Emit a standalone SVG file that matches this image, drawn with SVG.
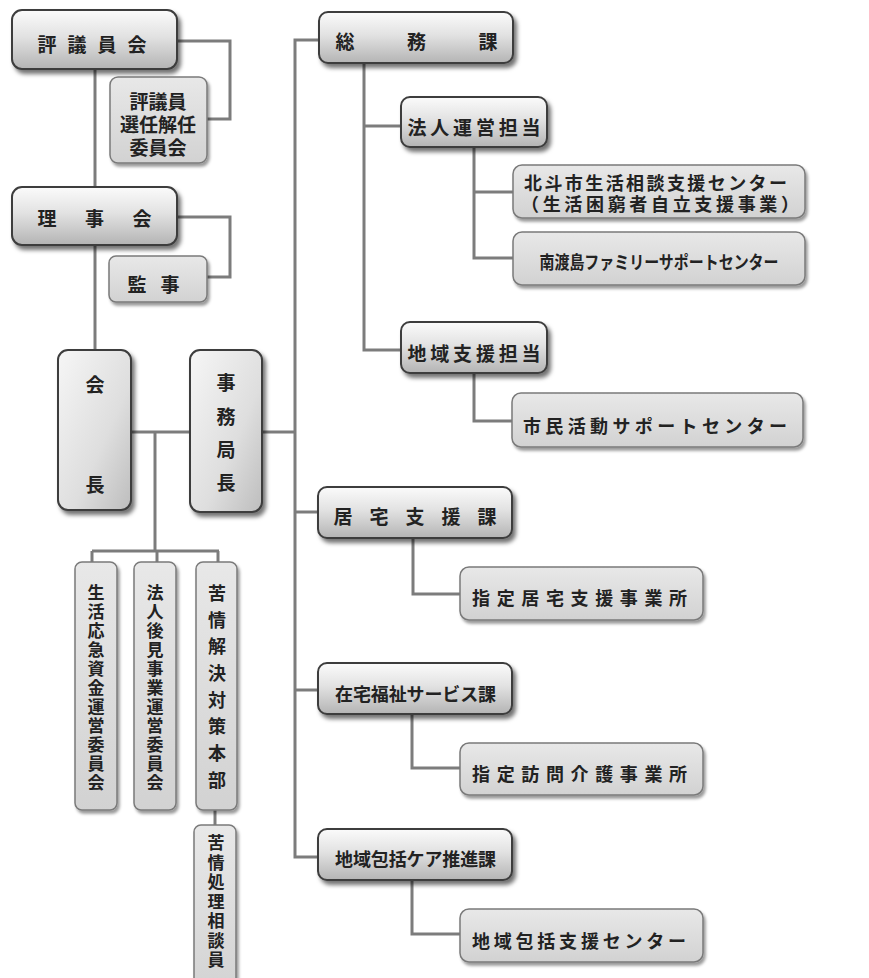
<svg xmlns="http://www.w3.org/2000/svg" width="869" height="978" viewBox="0 0 869 978">
<defs>
<linearGradient id="gMain" x1="0" y1="0" x2="0" y2="1">
<stop offset="0" stop-color="#fbfbfb"/>
<stop offset="0.45" stop-color="#e2e2e2"/>
<stop offset="1" stop-color="#b4b4b4"/>
</linearGradient>
<linearGradient id="gTall" x1="0" y1="0" x2="1" y2="1">
<stop offset="0" stop-color="#f6f6f6"/>
<stop offset="0.6" stop-color="#dedede"/>
<stop offset="1" stop-color="#bdbdbd"/>
</linearGradient>
<linearGradient id="gSub" x1="0" y1="0" x2="0" y2="1">
<stop offset="0" stop-color="#e8e8e8"/>
<stop offset="1" stop-color="#d2d2d2"/>
</linearGradient>
<filter id="shMain" x="-10%" y="-10%" width="130%" height="140%">
<feDropShadow dx="3" dy="4" stdDeviation="2" flood-color="#000" flood-opacity="0.55"/>
</filter>
<filter id="shSub" x="-10%" y="-10%" width="130%" height="140%">
<feDropShadow dx="2" dy="3" stdDeviation="1.6" flood-color="#000" flood-opacity="0.4"/>
</filter>
</defs>
<style>
.main{fill:url(#gMain);stroke:#3c3c3c;stroke-width:2;filter:url(#shMain)}
.tall{fill:url(#gTall);stroke:#3c3c3c;stroke-width:2;filter:url(#shMain)}
.sub{fill:url(#gSub);stroke:#7a7a7a;stroke-width:1.5;filter:url(#shSub)}
.t{font-family:"Noto Sans CJK JP","Noto Sans CJK SC",sans-serif;font-weight:700;fill:#222;dominant-baseline:central}
.v{writing-mode:vertical-rl}
.f19{font-size:19px}
.f18{font-size:18px}
.f17{font-size:17px}
.mid{text-anchor:middle}
.conn{fill:none;stroke:#7c7c7c;stroke-width:3}
</style>

<g id="connectors" class="conn">
<path d="M177,41 H230 V119 H207"/>
<path d="M95,69 V187"/>
<path d="M177,217 H230 V277 H207"/>
<path d="M95,245 V350"/>
<path d="M131,432 H190"/>
<path d="M262,432 H295"/>
<path d="M319,40 H295 V857 H318"/>
<path d="M295,512 H318"/>
<path d="M295,690 H318"/>
<path d="M364,63 V350 H401"/>
<path d="M364,126 H401"/>
<path d="M474,147 V258 H513"/>
<path d="M474,192 H513"/>
<path d="M474,373 V421 H512"/>
<path d="M413,538 V594 H460"/>
<path d="M412,714 V768 H460"/>
<path d="M412,880 V934 H460"/>
<path d="M155,432 V551"/>
<path d="M92,551 H219"/>
<path d="M92,551 V562"/>
<path d="M157,551 V562"/>
<path d="M218,551 V562"/>
<path d="M215,810 V825"/>
</g>

<g id="hyogiinkai">
<rect class="main" x="12" y="10" width="165" height="59" rx="10"/>
<text class="t f19" x="37.5" y="43" textLength="109" lengthAdjust="spacing">評議員会</text>
</g>
<g id="senninkainin">
<rect class="sub" x="110" y="77" width="97" height="86" rx="8"/>
<text class="t f19 mid" x="158" y="100">評議員</text>
<text class="t f19 mid" x="158" y="123">選任解任</text>
<text class="t f19 mid" x="158" y="146">委員会</text>
</g>
<g id="rijikai">
<rect class="main" x="12" y="187" width="165" height="58" rx="10"/>
<text class="t f19" x="37.5" y="217" textLength="114" lengthAdjust="spacing">理事会</text>
</g>
<g id="kanji">
<rect class="sub" x="109" y="256" width="98" height="46" rx="7"/>
<text class="t f19" x="127.5" y="283" textLength="52" lengthAdjust="spacing">監事</text>
</g>
<g id="kaicho">
<rect class="tall" x="58" y="350" width="73" height="160" rx="10"/>
<text class="t f19 mid" x="95" y="383">会</text>
<text class="t f19 mid" x="95" y="483">長</text>
</g>
<g id="jimukyokucho">
<rect class="tall" x="190" y="350" width="72" height="162" rx="10"/>
<text class="t f19 v" x="226" y="373.5" textLength="119" lengthAdjust="spacing">事務局長</text>
</g>
<g id="seikatsuokyu">
<rect class="sub" x="75" y="562" width="42" height="248" rx="7"/>
<text class="t f17 v" x="96" y="584.5" textLength="207" lengthAdjust="spacing">生活応急資金運営委員会</text>
</g>
<g id="hojinkoken">
<rect class="sub" x="134" y="562" width="42" height="248" rx="7"/>
<text class="t f17 v" x="155" y="584.5" textLength="207" lengthAdjust="spacing">法人後見事業運営委員会</text>
</g>
<g id="kujokaiketsu">
<rect class="sub" x="196" y="562" width="41" height="248" rx="7"/>
<text class="t f18 v" x="217" y="584" textLength="205" lengthAdjust="spacing">苦情解決対策本部</text>
</g>
<g id="kujoshori">
<rect class="sub" x="194" y="825" width="42" height="175" rx="7"/>
<text class="t f17 v" x="216" y="834.5" textLength="134" lengthAdjust="spacing">苦情処理相談員</text>
</g>

<g id="somuka">
<rect class="main" x="319" y="12" width="194" height="51" rx="9"/>
<text class="t f19" x="335.5" y="40" textLength="162" lengthAdjust="spacing">総務課</text>
</g>
<g id="hojinunei">
<rect class="main" x="401" y="97" width="146" height="50" rx="9"/>
<text class="t f19" x="407.5" y="126" textLength="133" lengthAdjust="spacing">法人運営担当</text>
</g>
<g id="hokuto">
<rect class="sub" x="513" y="165" width="292" height="53" rx="9"/>
<text class="t f18" x="524" y="182" textLength="263" lengthAdjust="spacing">北斗市生活相談支援センター</text>
<text class="t f18" x="521" y="203" textLength="278" lengthAdjust="spacing">（生活困窮者自立支援事業）</text>
</g>
<g id="minamioshima">
<rect class="sub" x="513" y="232" width="292" height="53" rx="9"/>
<text class="t f18" x="539.5" y="261" textLength="239" lengthAdjust="spacingAndGlyphs">南渡島ファミリーサポートセンター</text>
</g>
<g id="chiikishien">
<rect class="main" x="401" y="322" width="146" height="51" rx="9"/>
<text class="t f19" x="407.5" y="352" textLength="133" lengthAdjust="spacing">地域支援担当</text>
</g>
<g id="shimin">
<rect class="sub" x="512" y="393" width="291" height="54" rx="9"/>
<text class="t f18" x="523" y="425" textLength="264" lengthAdjust="spacing">市民活動サポートセンター</text>
</g>
<g id="kyotakuka">
<rect class="main" x="318" y="487" width="194" height="51" rx="9"/>
<text class="t f19" x="333.5" y="515" textLength="163" lengthAdjust="spacing">居宅支援課</text>
</g>
<g id="shiteikyotaku">
<rect class="sub" x="460" y="567" width="243" height="53" rx="9"/>
<text class="t f18" x="472" y="597" textLength="215" lengthAdjust="spacing">指定居宅支援事業所</text>
</g>
<g id="zaitakufukushi">
<rect class="main" x="318" y="663" width="194" height="51" rx="9"/>
<text class="t f18" x="335" y="693" textLength="161" lengthAdjust="spacing">在宅福祉サービス課</text>
</g>
<g id="shiteihomon">
<rect class="sub" x="460" y="743" width="243" height="52" rx="9"/>
<text class="t f18" x="472" y="773" textLength="215" lengthAdjust="spacing">指定訪問介護事業所</text>
</g>
<g id="chiikihokatsu">
<rect class="main" x="318" y="829" width="194" height="51" rx="9"/>
<text class="t f18" x="335" y="858" textLength="161" lengthAdjust="spacing">地域包括ケア推進課</text>
</g>
<g id="hokatsushien">
<rect class="sub" x="460" y="909" width="243" height="53" rx="9"/>
<text class="t f18" x="472" y="940" textLength="214" lengthAdjust="spacing">地域包括支援センター</text>
</g>
</svg>
